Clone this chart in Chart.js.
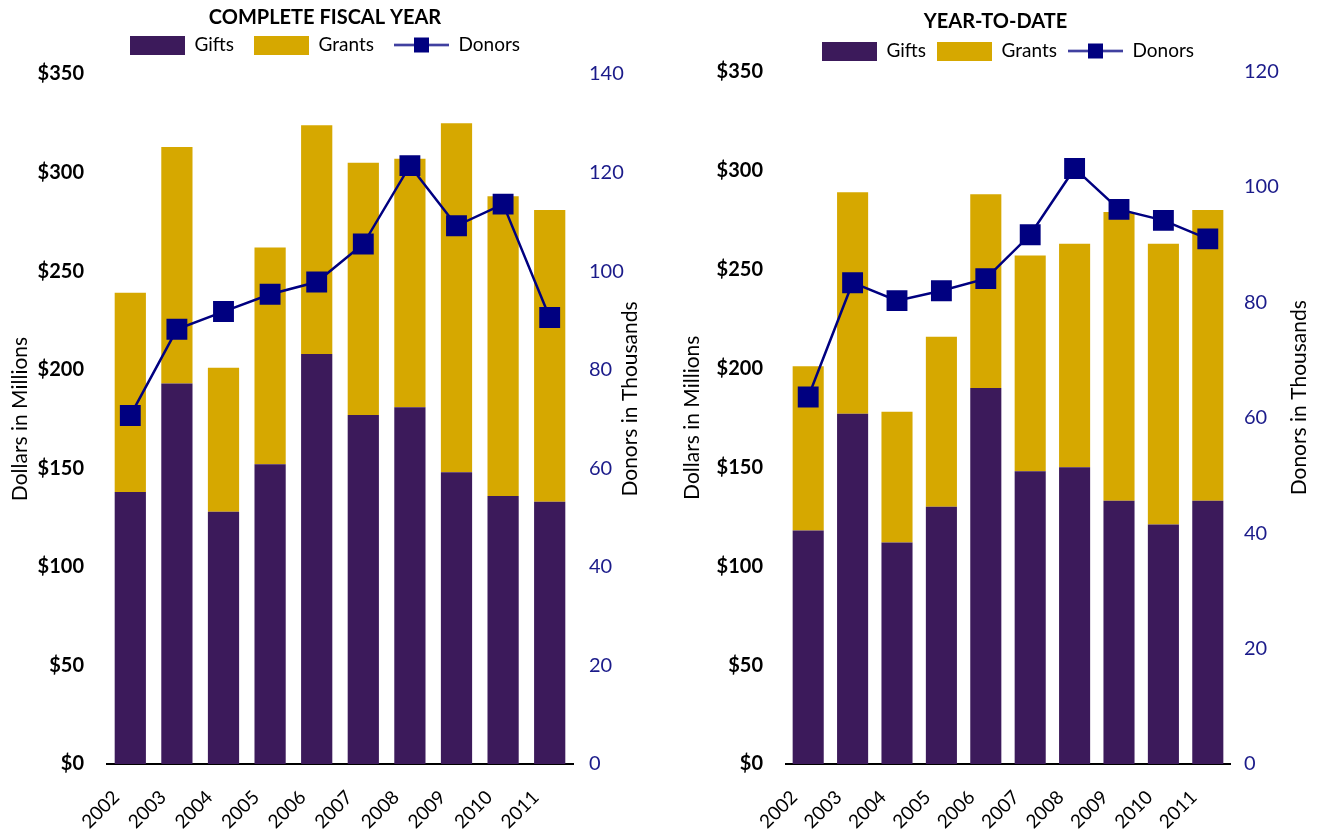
<!DOCTYPE html>
<html>
<head>
<meta charset="UTF-8">
<script src="https://cdn.jsdelivr.net/npm/chart.js"></script>
<style>
  body { margin:0; background:#fff; }
  .box { position:absolute; top:0; height:838px; }
  #leftBox { left:0; width:660px; }
  #rightBox { left:660px; width:659px; }
</style>
</head>
<body>
<div class="box" id="leftBox"><canvas id="fiscal" width="660" height="838"></canvas></div>
<div class="box" id="rightBox"><canvas id="ytd" width="659" height="838"></canvas></div>
<script>
const years = ["2002", "2003", "2004", "2005", "2006", "2007", "2008", "2009", "2010", "2011"];

// complete fiscal year ($ millions, donors in thousands)
const fiscalGifts = [138, 193, 128, 152, 208, 177, 181, 148, 136, 133];
const fiscalGrants = [101, 120, 73, 110, 116, 128, 126, 177, 152, 148];
const fiscalDonors = [70.7, 88.2, 91.8, 95.3, 97.8, 105.5, 121.4, 109.2, 113.6, 90.6];

// year to date
const ytdGifts = [118, 177, 112, 130, 190, 148, 150, 133, 121, 133];
const ytdGrants = [83, 112, 66, 86, 98, 109, 113, 146, 142, 147];
const ytdDonors = [63.6, 83.4, 80.3, 82.0, 84.1, 91.7, 103.2, 96.1, 94.2, 91.0];

const PURPLE = "#3c1a5b";
const GOLD = "#d6a800";
const NAVY = "#000080";
const FONT = "Lato";

function legendSwatch(color, isLine) {
  const c = document.createElement("canvas");
  c.width = 55;
  c.height = 19;
  const g = c.getContext("2d");
  if (isLine) {
    g.strokeStyle = NAVY;
    g.lineWidth = 2;
    g.beginPath();
    g.moveTo(0, 9.5);
    g.lineTo(55, 9.5);
    g.stroke();
    g.fillStyle = NAVY;
    g.fillRect(20, 2, 15, 15);
  } else {
    g.fillStyle = color;
    g.fillRect(0, 0, 55, 19);
  }
  return c;
}

const swatches = [legendSwatch(PURPLE), legendSwatch(GOLD), legendSwatch(NAVY, true)];

// right axis title reads bottom-to-top like the left one; also adds room under the legend
const sideTitle = {
  id: "sideTitle",
  afterInit(chart, args, opts) {
    const legend = chart.legend;
    const fit = legend.fit;
    legend.fit = function () {
      fit.call(this);
      this.height += opts.legendExtra;
    };
  },
  afterDraw(chart, args, opts) {
    const s = chart.scales.y1;
    const ctx = chart.ctx;
    ctx.save();
    ctx.translate(s.right - opts.inset, (s.top + s.bottom) / 2 - opts.lift);
    ctx.rotate(-Math.PI / 2);
    ctx.font = opts.size + "px " + FONT;
    ctx.fillStyle = "#000";
    ctx.textAlign = "center";
    ctx.textBaseline = "middle";
    ctx.fillText(opts.text, 0, 0);
    ctx.restore();
  }
};

function makeChart(id, o) {
  return new Chart(document.getElementById(id), {
    data: {
      labels: years,
      datasets: [
        { type: "bar", label: "Gifts", data: o.gifts, backgroundColor: PURPLE, order: 1,
          barPercentage: o.barPct, categoryPercentage: 1 },
        { type: "bar", label: "Grants", data: o.grants, backgroundColor: GOLD, order: 1,
          barPercentage: o.barPct, categoryPercentage: 1 },
        { type: "line", label: "Donors", data: o.donors, yAxisID: "y1", order: 0,
          borderColor: NAVY, borderWidth: 2.5, backgroundColor: NAVY,
          pointStyle: "rect", pointRadius: 13, pointHoverRadius: 13,
          pointBackgroundColor: NAVY, pointBorderColor: NAVY, tension: 0 }
      ]
    },
    plugins: [sideTitle],
    options: {
      responsive: false,
      animation: false,
      layout: { padding: o.pad },
      plugins: {
        title: {
          display: true, text: o.title, color: "#000",
          font: { family: FONT, size: 20, weight: "bold" },
          padding: o.titlePad
        },
        legend: {
          fullSize: o.legendFull,
          labels: {
            usePointStyle: true, pointStyleWidth: 55,
            padding: o.legendPad, color: "#000",
            font: { family: FONT, size: 19 },
            generateLabels: (chart) => chart.data.datasets.map((ds, i) => ({
              text: ds.label, pointStyle: swatches[i], datasetIndex: i,
              hidden: false, lineWidth: 0, fontColor: "#000"
            }))
          }
        },
        sideTitle: { text: "Donors in Thousands", size: 21, inset: o.y1TitleInset,
          lift: 20, legendExtra: o.legendExtra },
        tooltip: { enabled: false }
      },
      scales: {
        x: {
          stacked: true,
          grid: { display: false },
          border: { display: true, color: "#000", width: 2 },
          ticks: { color: "#000", font: { family: FONT, size: 19 },
            minRotation: 45, maxRotation: 45, labelOffset: -14, padding: 14 },
          afterFit: (s) => { s.height = 74; }
        },
        y: {
          stacked: true, min: 0, max: 350,
          grid: { display: false, drawTicks: false },
          border: { display: false },
          ticks: { stepSize: 50, padding: 23, color: "#000",
            font: { family: FONT, size: 20, weight: "bold" },
            callback: (v) => "$" + v },
          title: { display: true, text: "Dollars in Millions", color: "#000",
            font: { family: FONT, size: 21 }, padding: { top: 8, bottom: 0 } },
          afterFit: (s) => { s.width = o.yWidth; }
        },
        y1: {
          position: "right", min: 0, max: o.donorMax,
          grid: { display: false, drawTicks: false },
          border: { display: false },
          ticks: { stepSize: 20, padding: o.y1TickPad, color: "#1b1b8a",
            font: { family: FONT, size: 20 } },
          afterFit: (s) => { s.width = o.y1Width; }
        }
      }
    }
  });
}

makeChart("fiscal", {
  title: "COMPLETE FISCAL YEAR",
  gifts: fiscalGifts, grants: fiscalGrants, donors: fiscalDonors,
  donorMax: 140, barPct: 0.67,
  pad: { top: 6, left: 0, right: 10, bottom: 0 },
  titlePad: { top: 0, bottom: -14.5 },
  legendFull: true, legendPad: 20, legendExtra: 9.5,
  yWidth: 107, y1Width: 77, y1TickPad: 16, y1TitleInset: 20
});

makeChart("ytd", {
  title: "YEAR-TO-DATE",
  gifts: ytdGifts, grants: ytdGrants, donors: ytdDonors,
  donorMax: 120, barPct: 0.7,
  pad: { top: 10, left: 12, right: 0, bottom: 0 },
  titlePad: { top: 0, bottom: -3.5 },
  legendFull: false, legendPad: 11, legendExtra: 1,
  yWidth: 114, y1Width: 89, y1TickPad: 14, y1TitleInset: 20
});
</script>
</body>
</html>
